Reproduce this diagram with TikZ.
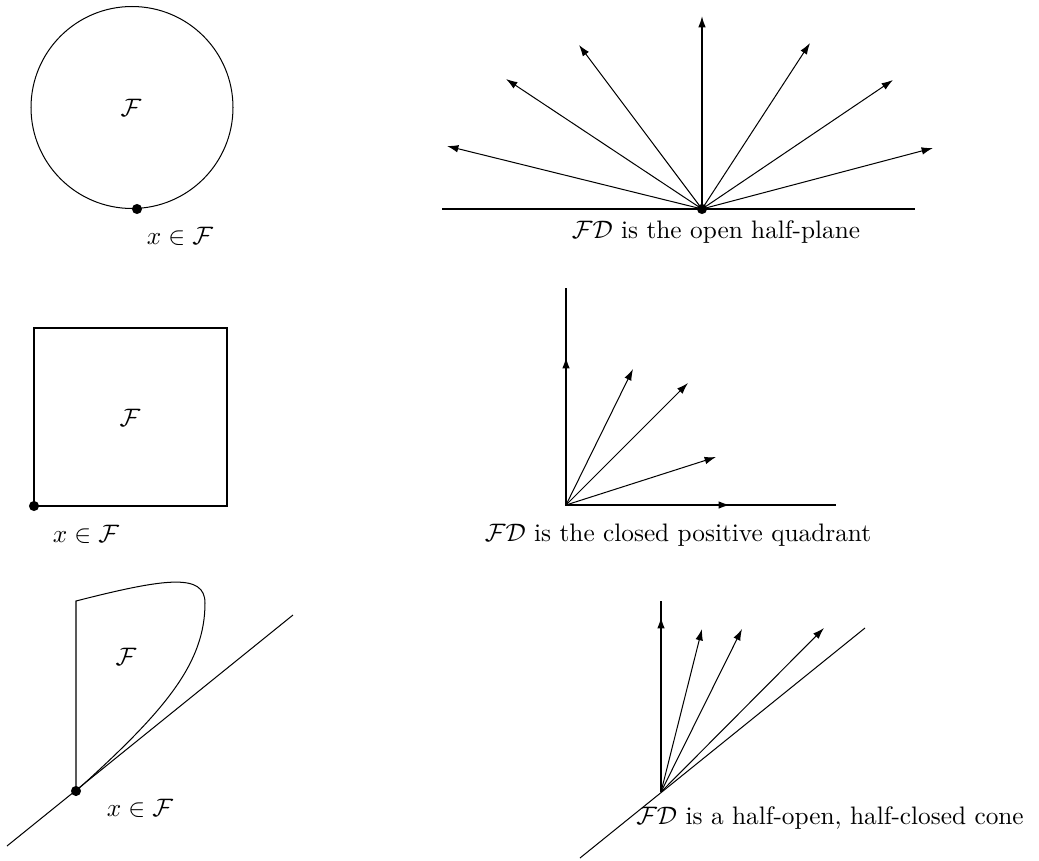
\documentclass[tikz,border=0pt]{standalone}
\usepackage{amsmath}
\usepackage{amssymb}
\usetikzlibrary{arrows.meta,positioning}

\tikzset{
  vec/.style={-{Latex[length=4.5pt,width=3pt]}},
  axvec/.style={vec, line width=0.7pt},
  pt/.style={circle, fill, inner sep=0pt, minimum size=4pt},
}

\begin{document}
\begin{tikzpicture}[x=0.0139cm,y=-0.0139cm]
  \useasboundingbox (0,0) rectangle (1039,861);

  % the disc
  \draw (132,107.5) circle (101);
  \node (fdisc) at (131,108) {$\mathcal{F}$};
  \node[pt] (xdisc) at (137,209) {};
  \node (ldisc) at (180,236) {$x \in \mathcal{F}$};

  % open half-plane
  \coordinate (hpl) at (442,209);
  \coordinate (hpr) at (915,209);
  \draw (hpl) -- (hpr);
  \node[pt] (ohp) at (702,209) {};
  \foreach \x/\y [count=\i] in {447/146,506/79,579/45,810/43,893/80,933/148}
    \coordinate (thp\i) at (\x,\y);
  \foreach \i in {1,...,6}
    \draw[vec] (ohp.center) -- (thp\i);
  \coordinate (thpv) at (702,16);
  \draw[vec, line width=0.6pt] (ohp.center) -- (thpv);
  \node (lhp) at (716,232) {$\mathcal{FD}$ is the open half-plane};

  % the square
  \draw (34,328) rectangle (227,506);
  \node (fsq) at (130,418) {$\mathcal{F}$};
  \node[pt] (xsq) at (34,506) {};
  \node (lsq) at (86,534) {$x \in \mathcal{F}$};

  % closed quadrant
  \coordinate (oq) at (566,505);
  \coordinate (qy) at (566,288);
  \coordinate (qx) at (836,505);
  \draw (qy) -- (oq) -- (qx);
  \coordinate (qya) at (566,357);
  \coordinate (qxa) at (730,505);
  \draw[axvec] (oq) -- (qya);
  \draw[axvec] (oq) -- (qxa);
  \foreach \x/\y [count=\i] in {633/369,688/383,716/457}
    \coordinate (tq\i) at (\x,\y);
  \foreach \i in {1,...,3}
    \draw[vec] (oq) -- (tq\i);
  \node (lq) at (678,535) {$\mathcal{FD}$ is the closed positive quadrant};

  % the cusp region
  \coordinate (cl) at (7,846);
  \coordinate (cr) at (293,615);
  \draw (cl) -- (cr);
  \node[pt] (xcusp) at (76,791) {};
  \coordinate (ctop) at (76,601);
  \draw (xcusp.center) -- (ctop)
    .. controls (166,578) and (205,573) .. (205,603)
    .. controls (205,663) and (166,710) .. (xcusp.center);
  \node (fcusp) at (126,657) {$\mathcal{F}$};
  \node (lcusp) at (140,808) {$x \in \mathcal{F}$};

  % half-open cone
  \coordinate (oc) at (661,792);
  \coordinate (kl) at (580,858);
  \coordinate (kr) at (865,628);
  \draw (kl) -- (kr);
  \coordinate (cy) at (661,601);
  \coordinate (cya) at (661,617);
  \draw (oc) -- (cy);
  \draw[axvec] (oc) -- (cya);
  \foreach \x/\y [count=\i] in {702/629,742/629,824/628}
    \coordinate (tc\i) at (\x,\y);
  \foreach \i in {1,...,3}
    \draw[vec] (oc) -- (tc\i);
  \node (lc) at (830,818) {$\mathcal{FD}$ is a half-open, half-closed cone};
\end{tikzpicture}
\end{document}
